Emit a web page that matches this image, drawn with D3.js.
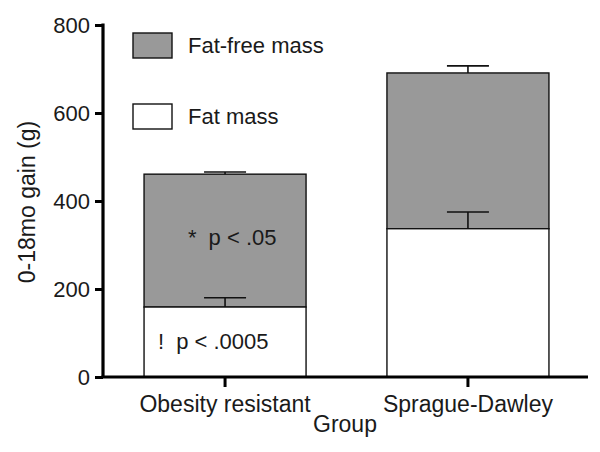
<!DOCTYPE html>
<html>
<head>
<meta charset="utf-8">
<script src="https://cdn.jsdelivr.net/npm/d3@7"></script>
<style>
  body { margin: 0; background: #fff; }
  text { font-family: "Liberation Sans", Arial, sans-serif; fill: #1a1a1a; }
</style>
</head>
<body>
<div id="chart"></div>
<script>
const groups = ["Obesity resistant", "Sprague-Dawley"];
const fatMass = [159, 337];
const fatMassErr = [21, 38];
const totalGain = [461, 691];
const totalErr = [5, 16];
const yTicks = [0, 200, 400, 600, 800];
const seriesNames = ["Fat-free mass", "Fat mass"];
const seriesColors = ["#999999", "#ffffff"];
const notes = [
  { group: "Obesity resistant", value: 300, mark: "*", text: "p < .05", dx: -37 },
  { group: "Obesity resistant", value: 63, mark: "!", text: "p < .0005", dx: -67 }
];

const width = 600, height = 452;
const margin = { top: 25, right: 12, bottom: 75, left: 103 };

const svg = d3.select("#chart").append("svg")
  .attr("width", width)
  .attr("height", height);

const x = d3.scaleBand()
  .domain(groups)
  .range([margin.left, 590])
  .paddingInner(0.333)
  .paddingOuter(0.169);

const y = d3.scaleLinear()
  .domain([0, 800])
  .range([377, margin.top]);

// bars: white fat mass at bottom, grey fat-free mass on top
const bars = svg.append("g");
bars.selectAll("rect.ffm")
  .data(groups)
  .join("rect")
  .attr("class", "ffm")
  .attr("x", d => x(d))
  .attr("width", x.bandwidth())
  .attr("y", (d, i) => y(totalGain[i]))
  .attr("height", (d, i) => y(fatMass[i]) - y(totalGain[i]))
  .attr("fill", seriesColors[0])
  .attr("stroke", "#111")
  .attr("stroke-width", 1.4);

bars.selectAll("rect.fm")
  .data(groups)
  .join("rect")
  .attr("class", "fm")
  .attr("x", d => x(d))
  .attr("width", x.bandwidth())
  .attr("y", (d, i) => y(fatMass[i]))
  .attr("height", (d, i) => y(0) - y(fatMass[i]))
  .attr("fill", seriesColors[1])
  .attr("stroke", "#111")
  .attr("stroke-width", 1.4);

// error bars (upper only)
function errorBars(vals, errs) {
  const g = svg.append("g").attr("stroke", "#111").attr("stroke-width", 1.6);
  groups.forEach((d, i) => {
    const cx = x(d) + x.bandwidth() / 2;
    g.append("line")
      .attr("x1", cx).attr("x2", cx)
      .attr("y1", y(vals[i])).attr("y2", y(vals[i] + errs[i]));
    g.append("line")
      .attr("x1", cx - 21).attr("x2", cx + 21)
      .attr("y1", y(vals[i] + errs[i])).attr("y2", y(vals[i] + errs[i]));
  });
}
errorBars(fatMass, fatMassErr);
errorBars(totalGain, totalErr);

// axes
const yAxis = svg.append("g")
  .attr("transform", `translate(${margin.left},0)`)
  .call(d3.axisLeft(y).tickValues(yTicks).tickSize(8).tickPadding(5));
yAxis.select(".domain").attr("stroke", "#000").attr("stroke-width", 3.2)
  .attr("d", `M0,${y(800) - 1.5}V${y(0)}`);
yAxis.selectAll(".tick line").attr("stroke", "#000").attr("stroke-width", 3);
yAxis.selectAll(".tick text").style("font-size", "22px").attr("dy", "0.36em");

const xAxis = svg.append("g")
  .attr("transform", `translate(0,${y(0)})`)
  .call(d3.axisBottom(x).tickSize(10));
xAxis.select(".domain").attr("stroke", "#000").attr("stroke-width", 3.2)
  .attr("d", `M${margin.left - 1.5},0H588`);
xAxis.selectAll(".tick line").attr("stroke", "#000").attr("stroke-width", 3);
xAxis.selectAll(".tick text").style("font-size", "23px").attr("y", 35).attr("dy", 0);

// axis titles
svg.append("text")
  .attr("x", 345).attr("y", 432)
  .attr("text-anchor", "middle")
  .style("font-size", "23px")
  .text("Group");

svg.append("text")
  .attr("transform", `translate(35,${y(400) + 1}) rotate(-90)`)
  .attr("text-anchor", "middle")
  .style("font-size", "23px")
  .text("0-18mo gain (g)");

// legend
const legend = svg.append("g");
seriesNames.forEach((name, i) => {
  const ly = 33 + i * 71;
  legend.append("rect")
    .attr("x", 133).attr("y", ly)
    .attr("width", 39).attr("height", 25)
    .attr("fill", seriesColors[i])
    .attr("stroke", "#111").attr("stroke-width", 1.4);
  legend.append("text")
    .attr("x", 188).attr("y", ly + 20)
    .style("font-size", "22px")
    .text(name);
});

// significance notes inside the first bar
notes.forEach(n => {
  const cx = x(n.group) + x.bandwidth() / 2;
  const t = svg.append("text")
    .attr("x", cx + n.dx).attr("y", y(n.value))
    .style("font-size", "22px");
  t.append("tspan").text(n.mark);
  t.append("tspan").attr("dx", 12).text(n.text);
});
</script>
</body>
</html>
